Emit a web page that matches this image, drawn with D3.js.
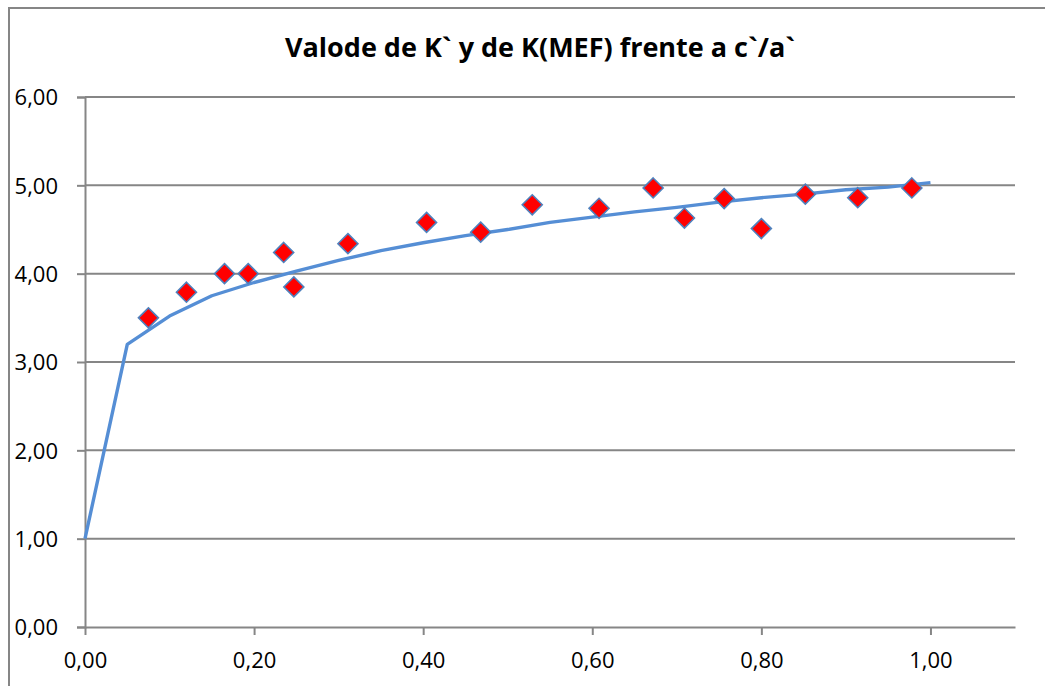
<!DOCTYPE html>
<html>
<head>
<meta charset="utf-8">
<script src="https://cdn.jsdelivr.net/npm/d3@7"></script>
<style>
  body { margin: 0; background: #fff; }
  text { font-family: "Open Sans", "Noto Sans", sans-serif; fill: #000; }
</style>
</head>
<body>
<svg width="1045" height="686"></svg>
<script>
// curve K(MEF)
const lineX = [0, 0.05, 0.10, 0.15, 0.20, 0.25, 0.30, 0.35, 0.40, 0.45, 0.50, 0.55, 0.60, 0.65, 0.70, 0.75, 0.80, 0.85, 0.90, 0.95, 1.00];
const lineY = [1.00, 3.20, 3.52, 3.75, 3.90, 4.03, 4.15, 4.26, 4.35, 4.43, 4.50, 4.58, 4.64, 4.70, 4.75, 4.81, 4.86, 4.90, 4.95, 4.98, 5.03];

// measured K` points
const pointX = [0.075, 0.120, 0.165, 0.193, 0.235, 0.247, 0.311, 0.404, 0.468, 0.529, 0.608, 0.672, 0.709, 0.756, 0.800, 0.852, 0.914, 0.978];
const pointY = [3.50, 3.79, 4.00, 4.00, 4.24, 3.85, 4.34, 4.58, 4.47, 4.78, 4.74, 4.97, 4.63, 4.85, 4.51, 4.90, 4.86, 4.97];

const xTicks = [0, 0.2, 0.4, 0.6, 0.8, 1.0];
const yTicks = [0, 1, 2, 3, 4, 5, 6];
const title = "Valode de K` y de K(MEF) frente a c`/a`";

const svg = d3.select("svg");
const fmt = v => v.toFixed(2).replace(".", ",");

// outer chart border
svg.append("rect")
    .attr("x", 9).attr("y", 8)
    .attr("width", 1060).attr("height", 700)
    .attr("fill", "none")
    .attr("stroke", "#868686")
    .attr("stroke-width", 2);

const x = d3.scaleLinear().domain([0, 1.1]).range([85, 1015]);
const y = d3.scaleLinear().domain([0, 6]).range([627, 97]);

// gridlines
svg.append("g")
    .selectAll("line")
    .data(yTicks.slice(1))
    .enter()
    .append("line")
        .attr("x1", x(0)).attr("x2", x(1.1))
        .attr("y1", d => y(d)).attr("y2", d => y(d))
        .attr("stroke", "#868686")
        .attr("stroke-width", 2);

// y axis
const yAxis = svg.append("g")
    .attr("transform", "translate(" + x(0) + ",0)")
    .call(d3.axisLeft(y).tickValues(yTicks).tickFormat(fmt).tickSize(8).tickPadding(19));
yAxis.select(".domain").attr("stroke", "#868686").attr("stroke-width", 2);
yAxis.selectAll(".tick line").attr("stroke", "#868686").attr("stroke-width", 2);
yAxis.selectAll("text").style("font-size", "22px").attr("dy", "0.36em");

// x axis
const xAxis = svg.append("g")
    .attr("transform", "translate(0," + y(0) + ")")
    .call(d3.axisBottom(x).tickValues(xTicks).tickFormat(fmt).tickSize(8).tickSizeOuter(0).tickPadding(17));
xAxis.select(".domain").attr("stroke", "#868686").attr("stroke-width", 2);
xAxis.selectAll(".tick line").attr("stroke", "#868686").attr("stroke-width", 2);
xAxis.selectAll("text").style("font-size", "22px");

// fitted curve
const lineData = lineX.map((v, i) => [v, lineY[i]]);
svg.append("path")
    .datum(lineData)
    .attr("fill", "none")
    .attr("stroke", "#558ED5")
    .attr("stroke-width", 3.4)
    .attr("stroke-linejoin", "round")
    .attr("d", d3.line().x(d => x(d[0])).y(d => y(d[1])));

// diamonds
const pts = pointX.map((v, i) => [v, pointY[i]]);
svg.append("g")
    .selectAll("path")
    .data(pts)
    .enter()
    .append("path")
        .attr("transform", d => "translate(" + x(d[0]) + "," + y(d[1]) + ")")
        .attr("d", "M0,-10L10,0L0,10L-10,0Z")
        .attr("fill", "#FF0000")
        .attr("stroke", "#4F81BD")
        .attr("stroke-width", 1.6);

// title
svg.append("text")
    .attr("x", 540).attr("y", 57)
    .attr("text-anchor", "middle")
    .style("font-size", "27px")
    .style("font-weight", "bold")
    .text(title);
</script>
</body>
</html>
